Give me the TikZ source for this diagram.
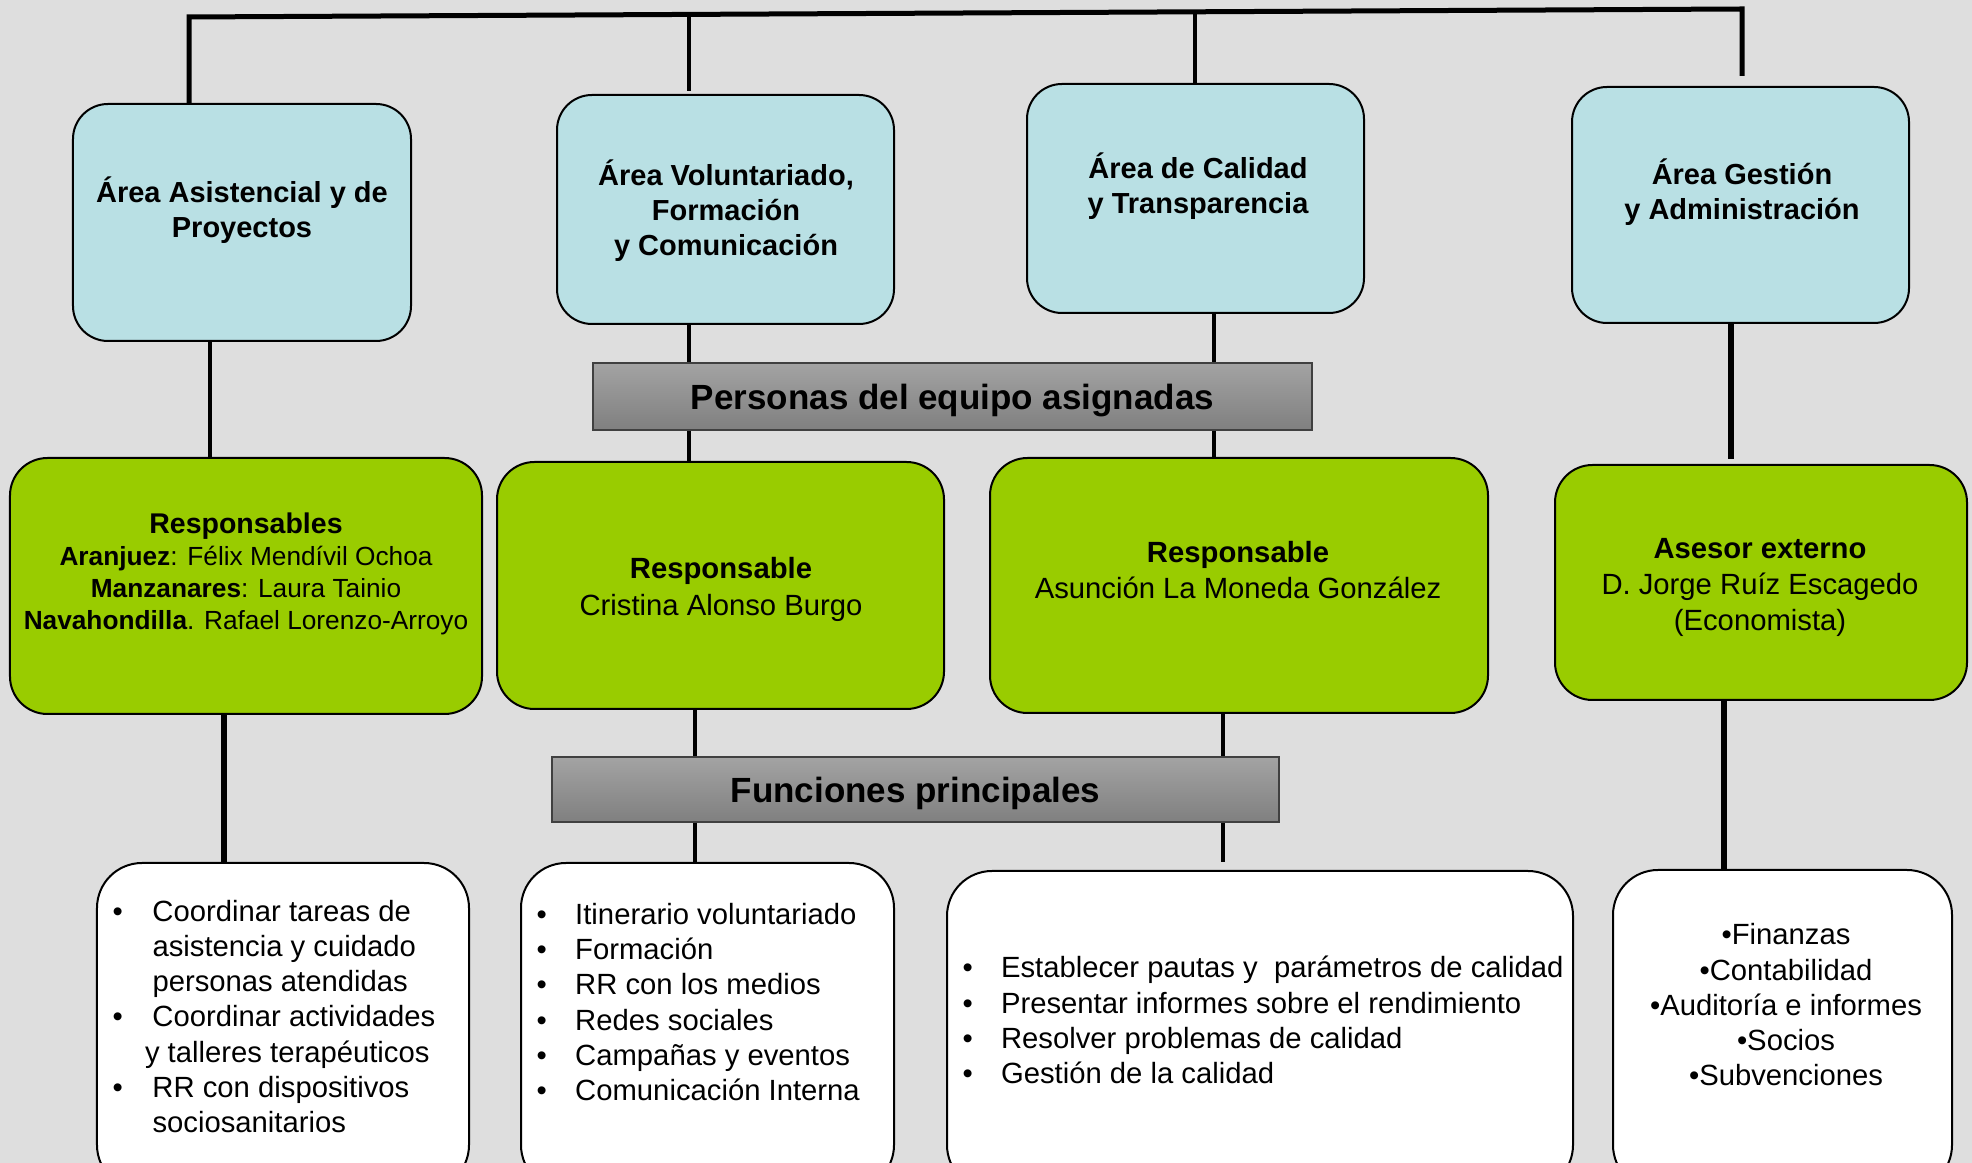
\documentclass[tikz,border=0pt]{standalone}
\usepackage{fontspec}
\setmainfont{Liberation Sans}
\usetikzlibrary{calc}
\definecolor{bggray}{RGB}{222,222,222}
\definecolor{areablue}{RGB}{185,224,228}
\definecolor{respgreen}{RGB}{153,204,0}
\newcommand{\itemdot}[1][14pt]{\makebox[#1][l]{\textbullet}}
\newcommand{\itemgap}[1][14pt]{\hspace*{#1}}

\begin{document}
\begin{tikzpicture}[x=0.4pt, y=-0.4pt,
  areabox/.style={draw, line width=0.8pt, rounded corners=14pt, fill=areablue},
  respbox/.style={draw, line width=0.8pt, rounded corners=15pt, fill=respgreen},
  taskbox/.style={draw, line width=0.8pt, rounded corners=18pt, fill=white},
  bandbox/.style={draw=black!75, line width=0.8pt, top color=black!36, bottom color=black!50, text depth=0pt, font=\fontsize{14}{17}\selectfont\bfseries},
  areatext/.style={align=center, inner sep=0pt, font=\fontsize{11.6}{14}\selectfont\bfseries},
  resptext/.style={align=center, inner sep=0pt, font=\fontsize{11.7}{14.4}\selectfont},
  tasklist/.style={align=left, inner sep=0pt, anchor=west, font=\fontsize{11.7}{14.1}\selectfont},
  link/.style={line width=1.7pt}, heavylink/.style={line width=2.4pt}]
\useasboundingbox (0,0) rectangle (1972,1163);
\clip (0,0) rectangle (1972,1163);
\fill[bggray] (0,0) rectangle (1972,1163);

\node[areabox, minimum width=135.2pt, minimum height=94.8pt] (a1) at (242,222.5) {};
\node[areabox, minimum width=134.8pt, minimum height=91.6pt] (a2) at (725.5,209.5) {};
\node[areabox, minimum width=134.8pt, minimum height=91.6pt] (a3) at (1195.5,198.5) {};
\node[areabox, minimum width=134.8pt, minimum height=94.4pt] (a4) at (1740.5,205) {};
\node[areatext] (a1t) at (242,210.5) {Área Asistencial y de\\Proyectos};
\node[areatext] (a2t) at (726,211) {Área Voluntariado,\\Formación\\y Comunicación};
\node[areatext] (a3t) at (1198,186.5) {Área de Calidad\\y Transparencia};
\node[areatext] (a4t) at (1742,192.5) {Área Gestión\\y Administración};

\node[bandbox, minimum width=287.6pt, minimum height=26.8pt] (bar1) at (952.5,396.5) {Personas del equipo asignadas};

\node[respbox, minimum width=188.8pt, minimum height=102.4pt] (g1) at (246,586) {};
\node[respbox, minimum width=178.8pt, minimum height=98.8pt] (g2) at (720.5,585.5) {};
\node[respbox, minimum width=199.2pt, minimum height=102pt] (g3) at (1239,585.5) {};
\node[respbox, minimum width=164.8pt, minimum height=94pt] (g4) at (1761,582.5) {};
\node[resptext, font=\fontsize{10.5}{12.8}\selectfont] (g1t) at (246,573.5) {{\fontsize{11.4}{12.8}\selectfont\bfseries Responsables}\\\textbf{Aranjuez}: Félix Mendívil Ochoa\\\textbf{Manzanares}: Laura Tainio\\\textbf{Navahondilla}. Rafael Lorenzo-Arroyo};
\node[resptext, font=\fontsize{11.7}{14.8}\selectfont] (g2t) at (721,589.5) {\textbf{Responsable}\\Cristina Alonso Burgo};
\node[resptext] (g3t) at (1238,570.5) {\textbf{Responsable}\\Asunción La Moneda González};
\node[resptext] (g4t) at (1760,587) {\textbf{Asesor externo}\\D. Jorge Ruíz Escagedo\\(Economista)};

\node[bandbox, minimum width=290.8pt, minimum height=26pt] (bar2) at (915.5,789.5) {Funciones principales};

\node[taskbox, minimum width=148.8pt, minimum height=130.8pt] (w1) at (283,1026.5) {};
\node[taskbox, minimum width=149.2pt, minimum height=130.8pt] (w2) at (707.5,1026.5) {};
\node[taskbox, minimum width=250.4pt, minimum height=127.6pt] (w3) at (1260,1030.5) {};
\node[taskbox, minimum width=135.6pt, minimum height=128pt] (w4) at (1782.5,1030) {};
\node[tasklist] (w1t) at (112,1016.5) {\itemdot[16pt]Coordinar tareas de\\\itemgap[16pt]asistencia y cuidado\\\itemgap[16pt]personas atendidas\\\itemdot[16pt]Coordinar actividades\\\itemgap[13pt]y talleres terapéuticos\\\itemdot[16pt]RR con dispositivos\\\itemgap[16pt]sociosanitarios};
\node[tasklist] (w2t) at (536,1002) {\itemdot[15.5pt]Itinerario voluntariado\\\itemdot[15.5pt]Formación\\\itemdot[15.5pt]RR con los medios\\\itemdot[15.5pt]Redes sociales\\\itemdot[15.5pt]Campañas y eventos\\\itemdot[15.5pt]Comunicación Interna};
\node[tasklist] (w3t) at (962,1020) {\itemdot[15.4pt]Establecer pautas y\ \ parámetros de calidad\\\itemdot[15.4pt]Presentar informes sobre el rendimiento\\\itemdot[15.4pt]Resolver problemas de calidad\\\itemdot[15.4pt]Gestión de la calidad};
\node[resptext, font=\fontsize{11.7}{14.1}\selectfont] (w4t) at (1786,1005) {\textbullet Finanzas\\\textbullet Contabilidad\\\textbullet Auditoría e informes\\\textbullet Socios\\\textbullet Subvenciones};

\coordinate (t1) at (189,17);
\coordinate (t2) at (689,14.4);
\coordinate (t3) at (1195,11.3);
\coordinate (t4) at (1742,9);
\coordinate (c1) at (210,0);
\coordinate (c2) at (689,0);
\coordinate (c3) at (1214,0);
\coordinate (c4) at (1731,0);
\coordinate (c5) at (224,0);
\coordinate (c6) at (695,0);
\coordinate (c7) at (1223,0);
\coordinate (c8) at (1724,0);

\draw[link, line width=2pt] (a1.north -| t1) -- (t1) -- (t4) -- ([yshift=4pt]a4.north -| t4);
\path[link]
  (t2) edge ([yshift=1pt]a2.north -| t2)
  (t3) edge (a3.north -| t3)
  (a1.south -| c1) edge (g1.north -| c1)
  (a2.south -| c2) edge (bar1.north -| c2)
  (bar1.south -| c2) edge (g2.north -| c2)
  (a3.south -| c3) edge (bar1.north -| c3)
  (bar1.south -| c3) edge (g3.north -| c3)
  (g2.south -| c6) edge (bar2.north -| c6)
  (bar2.south -| c6) edge (w2.north -| c6)
  (g3.south -| c7) edge (bar2.north -| c7)
  (bar2.south -| c7) edge ([yshift=3pt]w3.north -| c7)
;
\path[heavylink]
  (a4.south -| c4) edge ([yshift=2pt]g4.north -| c4)
  (g1.south -| c5) edge (w1.north -| c5)
  (g4.south -| c8) edge (w4.north -| c8)
;
\end{tikzpicture}
\end{document}
